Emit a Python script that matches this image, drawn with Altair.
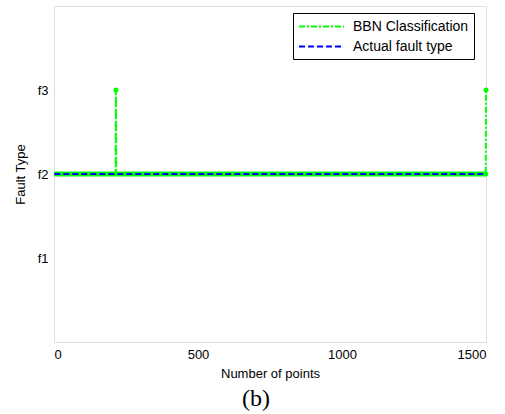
import altair as alt
import pandas as pd

# BBN classification output (fault type index vs sample number)
bbn_x = [1, 214, 215, 216, 1499, 1500]
bbn_y = [2, 2, 3, 2, 2, 3]
# Actual fault type
act_x = [1, 1500]
act_y = [2, 2]

series_names = ["BBN Classification", "Actual fault type"]
y_ticks = [1, 2, 3]
x_ticks = [0, 500, 1000, 1500]

df = pd.concat([
    pd.DataFrame({"x": bbn_x, "y": bbn_y, "series": series_names[0], "order": range(len(bbn_x))}),
    pd.DataFrame({"x": act_x, "y": act_y, "series": series_names[1], "order": range(len(act_x))}),
], ignore_index=True)

FONT = "Liberation Sans"

xenc = alt.X("x:Q", scale=alt.Scale(domain=[0, 1500], nice=False, zero=False),
             axis=alt.Axis(values=x_ticks, title="Number of points", format="d",
                           grid=False, ticks=False, domain=False, labelPadding=6,
                           titlePadding=6, labelFontSize=13, titleFontSize=13,
                           labelFont=FONT, titleFont=FONT, titleFontWeight="normal",
                           labelColor="black", titleColor="black"))
yenc = alt.Y("y:Q", scale=alt.Scale(domain=[0, 4], nice=False),
             axis=alt.Axis(values=y_ticks, title="Fault Type",
                           labelExpr="'f' + datum.value",
                           grid=False, ticks=False, domain=False, labelPadding=6,
                           titlePadding=10, labelFontSize=13, titleFontSize=13,
                           labelFont=FONT, titleFont=FONT, titleFontWeight="normal",
                           labelColor="black", titleColor="black"))

color_scale = alt.Scale(domain=series_names, range=["#00ff00", "#0000ff"])
dash_scale = alt.Scale(domain=series_names, range=[[6, 2, 2, 2], [6, 3]])

base = alt.Chart(df)

band = base.transform_filter(
    (alt.datum.series == series_names[0]) & (alt.datum.y == 2)
).mark_line(color="#00ff00", strokeWidth=5).encode(x=xenc, y=yenc, order="order:Q")

lines = base.mark_line(strokeWidth=2).encode(
    x=xenc, y=yenc, order="order:Q",
    color=alt.Color("series:N", scale=color_scale, title=None,
                    legend=alt.Legend(orient="none", legendX=239, legendY=7,
                                      symbolType="M-1,0H5", symbolSize=225,
                                      symbolStrokeWidth=2, labelFontSize=14,
                                      labelFont=FONT, labelColor="black",
                                      strokeColor="black", fillColor="white",
                                      padding=5, rowPadding=4, labelOffset=38,
                                      labelLimit=300)),
    strokeDash=alt.StrokeDash("series:N", scale=dash_scale, title=None),
)

pts = base.transform_filter(
    (alt.datum.series == series_names[0]) & ((alt.datum.y == 3) | (alt.datum.x == 1500) | (alt.datum.x == 1499))
).mark_point(filled=True, color="#00ff00", size=25, opacity=1).encode(x=xenc, y=yenc)

chart = alt.layer(band, lines, pts).properties(
    width=432, height=336,
    title=alt.TitleParams("(b)", orient="bottom", font="Liberation Serif", fontSize=24,
                          fontWeight="normal", color="black", offset=7, dx=-14),
    autosize=alt.AutoSizeParams(type="none"),
    padding={"left": 54, "top": 6, "right": 19, "bottom": 72},
).configure_view(stroke="#222222", strokeWidth=1.2).configure(background="white")

chart.save("out.html", embed_options={"renderer": "svg", "actions": False})
